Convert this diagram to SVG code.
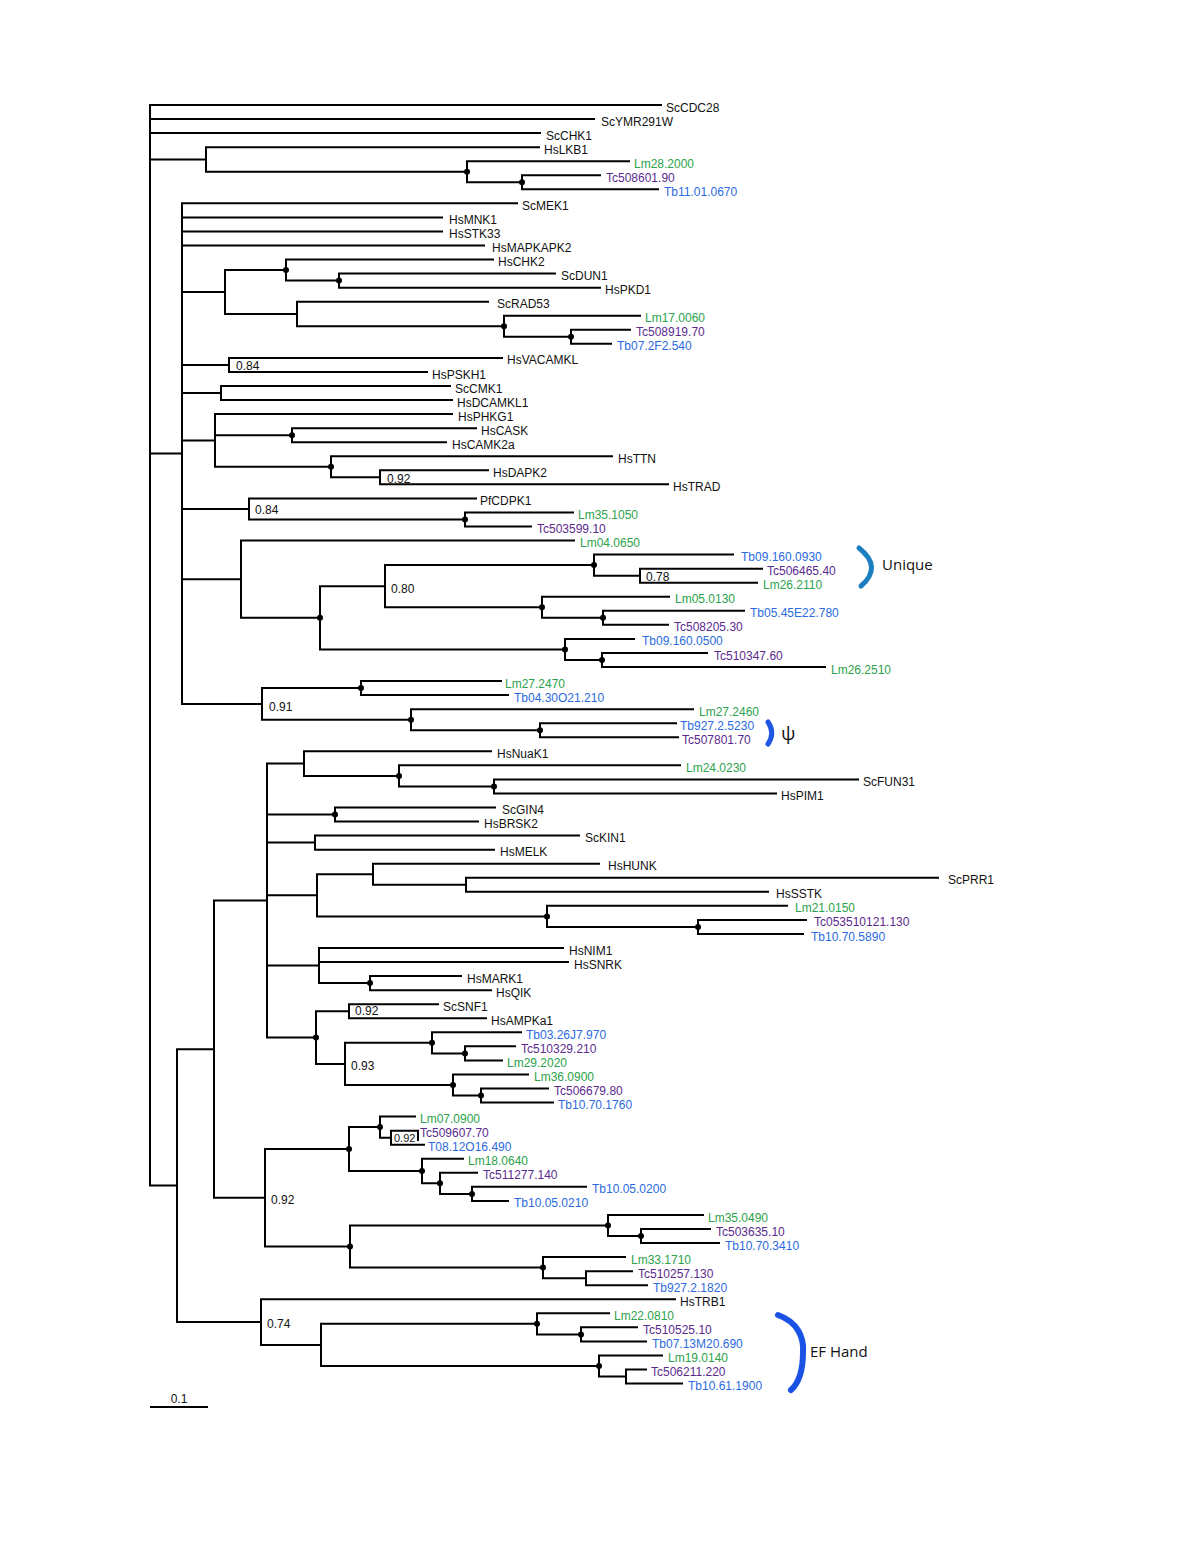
<svg xmlns="http://www.w3.org/2000/svg" width="1200" height="1553" viewBox="0 0 1200 1553">
<style>
.b{stroke:#000;stroke-width:2;fill:none;stroke-linecap:square}
.t{font-family:"Liberation Sans",Arial,sans-serif;font-size:12px;fill:#111}
.lm{fill:#2ca24c}.tc{fill:#5b2a8e}.tb{fill:#2b6be0}
.d{fill:#000}
.br{fill:none;stroke-linecap:round}
.n{font-family:"Open Sans","Noto Sans",sans-serif;font-size:15px;fill:#111}
</style>
<rect width="1200" height="1553" fill="#fff"/>
<g id="connectors" class="b">
<path d="M150 105V1185.6M150 105H661M150 119.05H594M150 133.1H540M150 159.4H206M150 453.6H182M150 1185.6H177"/>
<path d="M206 147.15V171.7M206 147.15H539M206 171.7H467"/>
<path d="M467 161.2V182.3M467 161.2H629M467 182.3H522"/>
<path d="M522 175.25V189.3M522 175.25H600M522 189.3H658"/>
<path d="M182 203.35V703.9M182 203.35H517M182 217.4H442M182 231.45H442M182 245.5H484M182 292H225M182 364.9H229M182 393H221M182 440.4H215M182 509H249M182 579.2H241M182 703.9H262"/>
<path d="M225 270.1V314M225 270.1H286M225 314H297"/>
<path d="M286 259.55V280.6M286 259.55H493M286 280.6H339"/>
<path d="M339 273.6V287.65M339 273.6H555M339 287.65H600"/>
<path d="M297 301.7V326.3M297 301.7H488M297 326.3H504"/>
<path d="M504 315.75V336.8M504 315.75H640M504 336.8H571"/>
<path d="M571 329.8V343.85M571 329.8H630M571 343.85H611"/>
<path d="M229 357.9V371.95M229 357.9H502M229 371.95H427"/>
<path d="M221 386V400.05M221 386H450M221 400.05H452"/>
<path d="M215 414.1V466.8M215 414.1H452M215 435.2H292M215 466.8H331"/>
<path d="M292 428.15V442.2M292 428.15H476M292 442.2H446"/>
<path d="M331 456.25V477.3M331 456.25H612M331 477.3H380"/>
<path d="M380 470.3V484.35M380 470.3H488M380 484.35H668"/>
<path d="M249 498.4V519.5M249 498.4H476M249 519.5H465"/>
<path d="M465 512.45V526.5M465 512.45H573M465 526.5H531"/>
<path d="M241 540.55V617.8M241 540.55H574M241 617.8H320"/>
<path d="M320 586.2V649.4M320 586.2H385M320 649.4H565"/>
<path d="M385 565.1V607.3M385 565.1H594M385 607.3H542"/>
<path d="M594 554.6V575.7M594 554.6H733M594 575.7H640"/>
<path d="M640 568.65V582.7M640 568.65H762M640 582.7H757"/>
<path d="M542 596.75V617.8M542 596.75H669M542 617.8H603"/>
<path d="M603 610.8V624.85M603 610.8H744M603 624.85H668"/>
<path d="M565 638.9V660M565 638.9H634M565 660H602"/>
<path d="M602 652.95V667M602 652.95H707M602 667H825"/>
<path d="M262 688.1V719.7M262 688.1H361M262 719.7H411"/>
<path d="M361 681.05V695.1M361 681.05H501M361 695.1H508"/>
<path d="M411 709.15V730.2M411 709.15H693M411 730.2H540"/>
<path d="M540 723.2V737.25M540 723.2H676M540 737.25H678"/>
<path d="M177 1049.2V1322.1M177 1049.2H214M177 1322.1H261"/>
<path d="M214 900.6V1197.8M214 900.6H267M214 1197.8H265"/>
<path d="M267 763.6V1037.6M267 763.6H304M267 814.5H335M267 842.6H315M267 895.3H317M267 965.6H319M267 1037.6H316"/>
<path d="M304 751.3V775.9M304 751.3H491M304 775.9H399"/>
<path d="M399 765.35V786.4M399 765.35H680M399 786.4H494"/>
<path d="M494 779.4V793.45M494 779.4H858M494 793.45H776"/>
<path d="M335 807.5V821.55M335 807.5H495M335 821.55H478"/>
<path d="M315 835.6V849.65M315 835.6H579M315 849.65H494"/>
<path d="M317 874.2V916.4M317 874.2H373M317 916.4H547"/>
<path d="M373 863.7V884.8M373 863.7H599M373 884.8H466"/>
<path d="M466 877.75V891.8M466 877.75H938M466 891.8H768"/>
<path d="M547 905.85V926.9M547 905.85H787M547 926.9H698"/>
<path d="M698 919.9V933.95M698 919.9H806M698 933.95H803"/>
<path d="M319 948V983.1M319 948H563M319 962.05H568M319 983.1H370"/>
<path d="M370 976.1V990.15M370 976.1H461M370 990.15H491"/>
<path d="M316 1011.2V1063.9M316 1011.2H349M316 1063.9H345"/>
<path d="M349 1004.2V1018.25M349 1004.2H438M349 1018.25H486"/>
<path d="M345 1042.8V1085M345 1042.8H432M345 1085H453"/>
<path d="M432 1032.3V1053.4M432 1032.3H521M432 1053.4H465"/>
<path d="M465 1046.35V1060.4M465 1046.35H515M465 1060.4H502"/>
<path d="M453 1074.45V1095.5M453 1074.45H528M453 1095.5H481"/>
<path d="M481 1088.5V1102.55M481 1088.5H548M481 1102.55H553"/>
<path d="M265 1149.1V1246.6M265 1149.1H349M265 1246.6H350"/>
<path d="M349 1127.1V1171M349 1127.1H380M349 1171H422"/>
<path d="M380 1116.6V1137.7M380 1116.6H415M380 1137.7H391"/>
<path d="M391 1130.65V1144.7M391 1130.65H418M391 1144.7H424M418 1130.65V1140"/>
<path d="M422 1158.75V1183.3M422 1158.75H463M422 1183.3H440"/>
<path d="M440 1172.8V1193.9M440 1172.8H477M440 1193.9H472"/>
<path d="M472 1186.85V1200.9M472 1186.85H586M472 1200.9H508"/>
<path d="M350 1225.5V1267.6M350 1225.5H608M350 1267.6H543"/>
<path d="M608 1214.95V1236M608 1214.95H703M608 1236H641"/>
<path d="M641 1229V1243.05M641 1229H710M641 1243.05H719"/>
<path d="M543 1257.1V1278.2M543 1257.1H625M543 1278.2H586"/>
<path d="M586 1271.15V1285.2M586 1271.15H632M586 1285.2H647"/>
<path d="M261 1299.25V1344.9M261 1299.25H675M261 1344.9H321"/>
<path d="M321 1323.8V1366M321 1323.8H537M321 1366H599"/>
<path d="M537 1313.3V1334.4M537 1313.3H609M537 1334.4H581"/>
<path d="M581 1327.35V1341.4M581 1327.35H637M581 1341.4H646"/>
<path d="M599 1355.45V1376.5M599 1355.45H662M599 1376.5H626"/>
<path d="M626 1369.5V1383.55M626 1369.5H646M626 1383.55H682"/>
</g>
<g id="nodes" class="d">
<circle cx="467" cy="171.7" r="3"/><circle cx="522" cy="182.3" r="3"/>
<circle cx="286" cy="270.1" r="3"/><circle cx="339" cy="280.6" r="3"/>
<circle cx="504" cy="326.3" r="3"/><circle cx="571" cy="336.8" r="3"/>
<circle cx="292" cy="435.2" r="3"/><circle cx="331" cy="466.8" r="3"/>
<circle cx="465" cy="519.5" r="3"/>
<circle cx="594" cy="565.1" r="3"/><circle cx="542" cy="607.3" r="3"/><circle cx="603" cy="617.8" r="3"/>
<circle cx="320" cy="617.8" r="3"/><circle cx="565" cy="649.4" r="3"/><circle cx="602" cy="660" r="3"/>
<circle cx="361" cy="688.1" r="3"/><circle cx="411" cy="719.7" r="3"/><circle cx="540" cy="730.2" r="3"/>
<circle cx="399" cy="775.9" r="3"/><circle cx="494" cy="786.4" r="3"/><circle cx="335" cy="814.5" r="3"/>
<circle cx="547" cy="916.4" r="3"/><circle cx="698" cy="926.9" r="3"/><circle cx="370" cy="983.1" r="3"/>
<circle cx="316" cy="1037.6" r="3"/><circle cx="432" cy="1042.8" r="3"/><circle cx="465" cy="1053.4" r="3"/>
<circle cx="453" cy="1085" r="3"/><circle cx="481" cy="1095.5" r="3"/>
<circle cx="380" cy="1127.1" r="3"/><circle cx="349" cy="1149.1" r="3"/><circle cx="422" cy="1171" r="3"/>
<circle cx="440" cy="1183.3" r="3"/><circle cx="472" cy="1193.9" r="3"/>
<circle cx="350" cy="1246.6" r="3"/><circle cx="608" cy="1225.5" r="3"/><circle cx="641" cy="1236" r="3"/>
<circle cx="543" cy="1267.6" r="3"/>
<circle cx="537" cy="1323.8" r="3"/><circle cx="581" cy="1334.4" r="3"/><circle cx="599" cy="1366" r="3"/>
</g>
<g id="support" class="t">
<text x="236" y="370">0.84</text>
<text x="387" y="483">0.92</text>
<text x="255" y="514">0.84</text>
<text x="391" y="593">0.80</text>
<text x="646" y="581">0.78</text>
<text x="269" y="711">0.91</text>
<text x="355" y="1015">0.92</text>
<text x="351" y="1070">0.93</text>
<text x="271" y="1204">0.92</text>
<text x="394" y="1142" style="font-size:11px">0.92</text>
<text x="267" y="1328">0.74</text>
</g>
<g id="leaves" class="t">
<g id="l0"><text x="666" y="111.5">ScCDC28</text></g>
<g id="l1"><text x="601" y="125.6">ScYMR291W</text></g>
<g id="l2"><text x="546" y="139.6">ScCHK1</text></g>
<g id="l3"><text x="544" y="153.7">HsLKB1</text></g>
<g id="l4"><text class="lm" x="634" y="167.7">Lm28.2000</text></g>
<g id="l5"><text class="tc" x="606" y="181.8">Tc508601.90</text></g>
<g id="l6"><text class="tb" x="664" y="195.8">Tb11.01.0670</text></g>
<g id="l7"><text x="522" y="209.9">ScMEK1</text></g>
<g id="l8"><text x="449" y="223.9">HsMNK1</text></g>
<g id="l9"><text x="449" y="238">HsSTK33</text></g>
<g id="l10"><text x="492" y="252">HsMAPKAPK2</text></g>
<g id="l11"><text x="498" y="266.1">HsCHK2</text></g>
<g id="l12"><text x="561" y="280.1">ScDUN1</text></g>
<g id="l13"><text x="605" y="294.2">HsPKD1</text></g>
<g id="l14"><text x="497" y="308.2">ScRAD53</text></g>
<g id="l15"><text class="lm" x="645" y="322.3">Lm17.0060</text></g>
<g id="l16"><text class="tc" x="636" y="336.3">Tc508919.70</text></g>
<g id="l17"><text class="tb" x="617" y="350.4">Tb07.2F2.540</text></g>
<g id="l18"><text x="507" y="364.4">HsVACAMKL</text></g>
<g id="l19"><text x="432" y="378.5">HsPSKH1</text></g>
<g id="l20"><text x="455" y="392.5">ScCMK1</text></g>
<g id="l21"><text x="457" y="406.6">HsDCAMKL1</text></g>
<g id="l22"><text x="458" y="420.6">HsPHKG1</text></g>
<g id="l23"><text x="481" y="434.7">HsCASK</text></g>
<g id="l24"><text x="452" y="448.7">HsCAMK2a</text></g>
<g id="l25"><text x="618" y="462.8">HsTTN</text></g>
<g id="l26"><text x="493" y="476.8">HsDAPK2</text></g>
<g id="l27"><text x="673" y="490.9">HsTRAD</text></g>
<g id="l28"><text x="480" y="504.9">PfCDPK1</text></g>
<g id="l29"><text class="lm" x="578" y="519">Lm35.1050</text></g>
<g id="l30"><text class="tc" x="537" y="533">Tc503599.10</text></g>
<g id="l31"><text class="lm" x="580" y="547.1">Lm04.0650</text></g>
<g id="l32"><text class="tb" x="741" y="561.1">Tb09.160.0930</text></g>
<g id="l33"><text class="tc" x="767" y="575.2">Tc506465.40</text></g>
<g id="l34"><text class="lm" x="763" y="589.2">Lm26.2110</text></g>
<g id="l35"><text class="lm" x="675" y="603.3">Lm05.0130</text></g>
<g id="l36"><text class="tb" x="750" y="617.3">Tb05.45E22.780</text></g>
<g id="l37"><text class="tc" x="674" y="631.4">Tc508205.30</text></g>
<g id="l38"><text class="tb" x="642" y="645.4">Tb09.160.0500</text></g>
<g id="l39"><text class="tc" x="714" y="659.5">Tc510347.60</text></g>
<g id="l40"><text class="lm" x="831" y="673.5">Lm26.2510</text></g>
<g id="l41"><text class="lm" x="505" y="687.6">Lm27.2470</text></g>
<g id="l42"><text class="tb" x="514" y="701.6">Tb04.30O21.210</text></g>
<g id="l43"><text class="lm" x="699" y="715.7">Lm27.2460</text></g>
<g id="l44"><text class="tb" x="680" y="729.7">Tb927.2.5230</text></g>
<g id="l45"><text class="tc" x="682" y="743.8">Tc507801.70</text></g>
<g id="l46"><text x="497" y="757.8">HsNuaK1</text></g>
<g id="l47"><text class="lm" x="686" y="771.9">Lm24.0230</text></g>
<g id="l48"><text x="863" y="785.9">ScFUN31</text></g>
<g id="l49"><text x="781" y="800">HsPIM1</text></g>
<g id="l50"><text x="502" y="814">ScGIN4</text></g>
<g id="l51"><text x="484" y="828.1">HsBRSK2</text></g>
<g id="l52"><text x="585" y="842.1">ScKIN1</text></g>
<g id="l53"><text x="500" y="856.2">HsMELK</text></g>
<g id="l54"><text x="608" y="870.2">HsHUNK</text></g>
<g id="l55"><text x="948" y="884.3">ScPRR1</text></g>
<g id="l56"><text x="776" y="898.3">HsSSTK</text></g>
<g id="l57"><text class="lm" x="795" y="912.4">Lm21.0150</text></g>
<g id="l58"><text class="tc" x="814" y="926.4">Tc053510121.130</text></g>
<g id="l59"><text class="tb" x="811" y="940.5">Tb10.70.5890</text></g>
<g id="l60"><text x="569" y="954.5">HsNIM1</text></g>
<g id="l61"><text x="574" y="968.6">HsSNRK</text></g>
<g id="l62"><text x="467" y="982.6">HsMARK1</text></g>
<g id="l63"><text x="496" y="996.7">HsQIK</text></g>
<g id="l64"><text x="443" y="1010.7">ScSNF1</text></g>
<g id="l65"><text x="491" y="1024.8">HsAMPKa1</text></g>
<g id="l66"><text class="tb" x="526" y="1038.8">Tb03.26J7.970</text></g>
<g id="l67"><text class="tc" x="521" y="1052.9">Tc510329.210</text></g>
<g id="l68"><text class="lm" x="507" y="1066.9">Lm29.2020</text></g>
<g id="l69"><text class="lm" x="534" y="1081">Lm36.0900</text></g>
<g id="l70"><text class="tc" x="554" y="1095">Tc506679.80</text></g>
<g id="l71"><text class="tb" x="558" y="1109.1">Tb10.70.1760</text></g>
<g id="l72"><text class="lm" x="420" y="1123.1">Lm07.0900</text></g>
<g id="l73"><text class="tc" x="420" y="1137.2">Tc509607.70</text></g>
<g id="l74"><text class="tb" x="428" y="1151.2">T08.12O16.490</text></g>
<g id="l75"><text class="lm" x="468" y="1165.3">Lm18.0640</text></g>
<g id="l76"><text class="tc" x="483" y="1179.3">Tc511277.140</text></g>
<g id="l77"><text class="tb" x="592" y="1193.4">Tb10.05.0200</text></g>
<g id="l78"><text class="tb" x="514" y="1207.4">Tb10.05.0210</text></g>
<g id="l79"><text class="lm" x="708" y="1221.5">Lm35.0490</text></g>
<g id="l80"><text class="tc" x="716" y="1235.5">Tc503635.10</text></g>
<g id="l81"><text class="tb" x="725" y="1249.6">Tb10.70.3410</text></g>
<g id="l82"><text class="lm" x="631" y="1263.6">Lm33.1710</text></g>
<g id="l83"><text class="tc" x="638" y="1277.7">Tc510257.130</text></g>
<g id="l84"><text class="tb" x="653" y="1291.7">Tb927.2.1820</text></g>
<g id="l85"><text x="680" y="1305.8">HsTRB1</text></g>
<g id="l86"><text class="lm" x="614" y="1319.8">Lm22.0810</text></g>
<g id="l87"><text class="tc" x="643" y="1333.9">Tc510525.10</text></g>
<g id="l88"><text class="tb" x="652" y="1347.9">Tb07.13M20.690</text></g>
<g id="l89"><text class="lm" x="668" y="1362">Lm19.0140</text></g>
<g id="l90"><text class="tc" x="651" y="1376">Tc506211.220</text></g>
<g id="l91"><text class="tb" x="688" y="1390.1">Tb10.61.1900</text></g>
</g>
<g id="bracket-unique">
<path class="br" d="M859 548Q883 567 861 586" stroke="#1b7fc1" stroke-width="5"/>
<text class="n" x="882" y="570">Unique</text>
</g>
<g id="bracket-psi">
<path class="br" d="M768 722Q775.5 733 768 744" stroke="#1f55e3" stroke-width="5"/>
<text class="n" x="781" y="740" style="font-size:19px">ψ</text>
</g>
<g id="bracket-ef">
<path class="br" d="M778 1315C798 1322 804 1338 803 1352C803 1368 800 1382 791 1390" stroke="#1a52e6" stroke-width="6"/>
<text class="n" x="810" y="1357">EF Hand</text>
</g>
<g id="scalebar">
<path class="b" d="M151 1407H207" stroke-linecap="butt"/>
<text class="t" x="179" y="1403" text-anchor="middle">0.1</text>
</g>
</svg>
